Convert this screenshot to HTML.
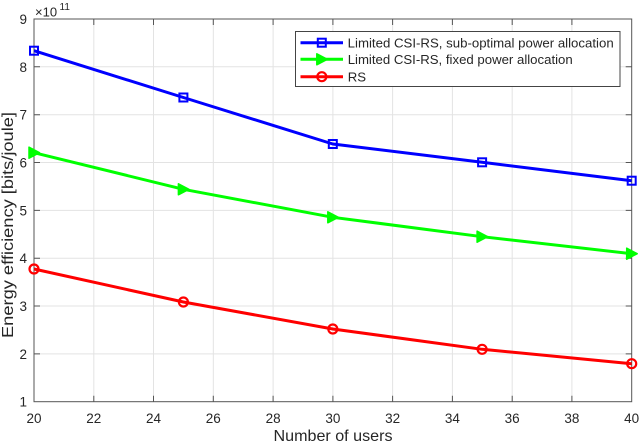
<!DOCTYPE html>
<html><head><meta charset="utf-8"><style>
html,body{margin:0;padding:0;background:#fff;}
svg{display:block;}
text{font-family:"Liberation Sans",Arial,sans-serif;fill:#262626;}
</style></head><body>
<svg width="640" height="444" viewBox="0 0 640 444" xmlns="http://www.w3.org/2000/svg">
<rect width="640" height="444" fill="#fff"/>
<!-- grid -->
<g stroke="#e3e3e3" stroke-width="1">
<line x1="93.8" y1="19" x2="93.8" y2="402"/>
<line x1="153.5" y1="19" x2="153.5" y2="402"/>
<line x1="213.3" y1="19" x2="213.3" y2="402"/>
<line x1="273.1" y1="19" x2="273.1" y2="402"/>
<line x1="332.9" y1="19" x2="332.9" y2="402"/>
<line x1="392.6" y1="19" x2="392.6" y2="402"/>
<line x1="452.4" y1="19" x2="452.4" y2="402"/>
<line x1="512.2" y1="19" x2="512.2" y2="402"/>
<line x1="571.9" y1="19" x2="571.9" y2="402"/>
<line x1="34" y1="66.8" x2="632" y2="66.8"/>
<line x1="34" y1="114.7" x2="632" y2="114.7"/>
<line x1="34" y1="162.5" x2="632" y2="162.5"/>
<line x1="34" y1="210.4" x2="632" y2="210.4"/>
<line x1="34" y1="258.2" x2="632" y2="258.2"/>
<line x1="34" y1="306" x2="632" y2="306"/>
<line x1="34" y1="353.9" x2="632" y2="353.9"/>
</g>
<!-- axes box -->
<g stroke="#555" stroke-width="1" fill="none">
<rect x="34" y="19" width="597.7" height="382.7"/>
<path d="M93.8 401.7v-6M153.5 401.7v-6M213.3 401.7v-6M273.1 401.7v-6M332.9 401.7v-6M392.6 401.7v-6M452.4 401.7v-6M512.2 401.7v-6M571.9 401.7v-6
M93.8 19v6M153.5 19v6M213.3 19v6M273.1 19v6M332.9 19v6M392.6 19v6M452.4 19v6M512.2 19v6M571.9 19v6
M34 66.8h6M34 114.7h6M34 162.5h6M34 210.4h6M34 258.2h6M34 306h6M34 353.9h6
M631.7 66.8h-6M631.7 114.7h-6M631.7 162.5h-6M631.7 210.4h-6M631.7 258.2h-6M631.7 306h-6M631.7 353.9h-6"/>
</g>
<!-- tick labels -->
<g font-size="13.5" text-anchor="middle">
<text x="34" y="423">20</text>
<text x="93.8" y="423">22</text>
<text x="153.5" y="423">24</text>
<text x="213.3" y="423">26</text>
<text x="273.1" y="423">28</text>
<text x="332.9" y="423">30</text>
<text x="392.6" y="423">32</text>
<text x="452.4" y="423">34</text>
<text x="512.2" y="423">36</text>
<text x="571.9" y="423">38</text>
<text x="631.7" y="423">40</text>
</g>
<g font-size="13.5" text-anchor="end">
<text x="27" y="24">9</text>
<text x="27" y="71.8">8</text>
<text x="27" y="119.7">7</text>
<text x="27" y="167.5">6</text>
<text x="27" y="215.4">5</text>
<text x="27" y="263.2">4</text>
<text x="27" y="311">3</text>
<text x="27" y="358.9">2</text>
<text x="27" y="406.7">1</text>
</g>
<text x="35" y="16.7" font-size="13">×10</text>
<text x="59.5" y="10" font-size="10">11</text>
<!-- axis labels -->
<text x="333" y="441" font-size="16" text-anchor="middle" textLength="119" lengthAdjust="spacingAndGlyphs">Number of users</text>
<text transform="translate(13,225) rotate(-90)" x="0" y="0" font-size="16" text-anchor="middle" textLength="226" lengthAdjust="spacingAndGlyphs">Energy efficiency [bits/joule]</text>
<!-- series -->
<g fill="none" stroke-width="3" stroke-linejoin="round">
<polyline stroke="#0000ff" points="34,50.7 183.4,97.5 332.8,144 482.1,162.3 631.7,180.7"/>
<polyline stroke="#00ff00" points="34,152.7 183.4,189.3 332.8,217.3 482.1,236.7 631.7,253.7"/>
<polyline stroke="#ff0000" points="34,269 183.4,302 332.8,329 482.1,349.3 631.7,363.7"/>
</g>
<g fill="none" stroke="#0000ff" stroke-width="2">
<rect x="30" y="46.7" width="8" height="8"/>
<rect x="179.4" y="93.5" width="8" height="8"/>
<rect x="328.8" y="140" width="8" height="8"/>
<rect x="478.1" y="158.3" width="8" height="8"/>
<rect x="627.7" y="176.7" width="8" height="8"/>
</g>
<g fill="#00ff00" stroke="#00ff00" stroke-width="1.5" stroke-linejoin="round">
<polygon points="29,147.2 29,158.2 39.5,152.7"/>
<polygon points="178.4,183.8 178.4,194.8 188.9,189.3"/>
<polygon points="327.8,211.8 327.8,222.8 338.3,217.3"/>
<polygon points="477.1,231.2 477.1,242.2 487.6,236.7"/>
<polygon points="626.7,248.2 626.7,259.2 637.2,253.7"/>
</g>
<g fill="none" stroke="#ff0000" stroke-width="2.2">
<circle cx="34" cy="269" r="4.5"/>
<circle cx="183.4" cy="302" r="4.5"/>
<circle cx="332.8" cy="329" r="4.5"/>
<circle cx="482.1" cy="349.3" r="4.5"/>
<circle cx="631.7" cy="363.7" r="4.5"/>
</g>
<!-- legend -->
<rect x="295.5" y="31.5" width="324.5" height="55" fill="#fff" stroke="#444" stroke-width="1"/>
<g stroke-width="3">
<line x1="300.5" y1="42.7" x2="343" y2="42.7" stroke="#0000ff"/>
<line x1="300.5" y1="59.3" x2="343" y2="59.3" stroke="#00ff00"/>
<line x1="300.5" y1="76.7" x2="343" y2="76.7" stroke="#ff0000"/>
</g>
<rect x="317.8" y="38.7" width="8" height="8" fill="none" stroke="#0000ff" stroke-width="2"/>
<polygon points="316.8,53.8 316.8,64.8 327.3,59.3" fill="#00ff00" stroke="#00ff00" stroke-width="1.5" stroke-linejoin="round"/>
<circle cx="321.8" cy="76.7" r="4.5" fill="none" stroke="#ff0000" stroke-width="2.2"/>
<g font-size="13.2">
<text x="347.7" y="47.5" textLength="266" lengthAdjust="spacingAndGlyphs">Limited CSI-RS, sub-optimal power allocation</text>
<text x="347.7" y="64.2">Limited CSI-RS, fixed power allocation</text>
<text x="347.7" y="81.5">RS</text>
</g>
</svg>
</body></html>
